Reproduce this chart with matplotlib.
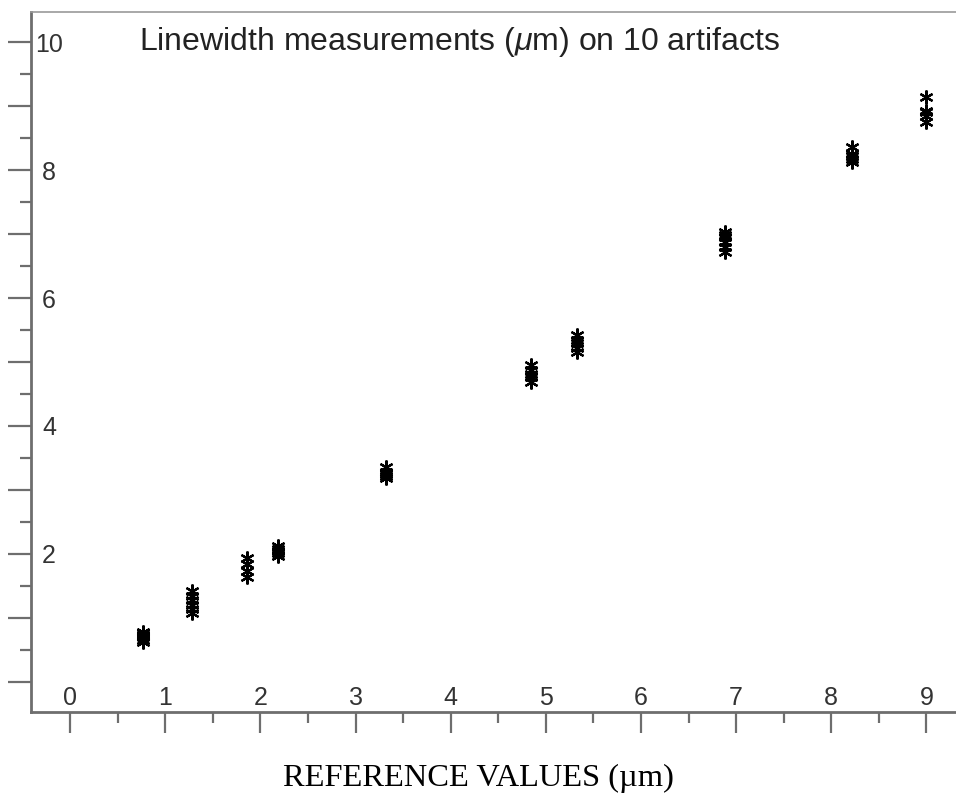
import numpy as np
import matplotlib
matplotlib.use("Agg")
import matplotlib.pyplot as plt
from matplotlib.ticker import FixedLocator, FuncFormatter

plt.rcParams['font.family'] = ['Liberation Sans', 'DejaVu Sans']
plt.rcParams['mathtext.fontset'] = 'custom'
plt.rcParams['mathtext.rm'] = 'Liberation Sans'
plt.rcParams['mathtext.it'] = 'Liberation Sans:italic'

# reference value of each artifact and the repeated measurements on it
ref_values = [0.77, 1.28, 1.86, 2.19, 3.32, 4.84, 5.33, 6.88, 8.22, 8.99]
measurements = [
    [0.62, 0.66, 0.70, 0.72, 0.74, 0.76, 0.78],
    [1.07, 1.14, 1.21, 1.28, 1.35, 1.42],
    [1.64, 1.74, 1.84, 1.94],
    [1.97, 2.02, 2.05, 2.08, 2.12],
    [3.19, 3.22, 3.25, 3.28, 3.36],
    [4.69, 4.76, 4.82, 4.88, 4.95],
    [5.16, 5.22, 5.29, 5.35, 5.42],
    [6.72, 6.80, 6.88, 6.95, 6.99, 7.03],
    [8.12, 8.18, 8.22, 8.25, 8.36],
    [8.75, 8.85, 8.90, 8.93, 9.14],
]

title = 'Linewidth measurements ($\\mu$m) on 10 artifacts'
xlabel = 'REFERENCE VALUES (\u00b5m)'

fig = plt.figure(figsize=(9.56, 7.96), dpi=100)
ax = fig.add_axes([31 / 956, 84 / 796, 1 - 31 / 956, (712 - 12) / 796])

for xr, ys in zip(ref_values, measurements):
    ax.plot([xr] * len(ys), ys, linestyle='none', marker=(6, 2, 0),
            markersize=10, markeredgewidth=1.6, color='black')

ax.set_xlim(-0.41, 9.31)
ax.set_ylim(-0.47, 10.47)

gray = '#6e6e6e'
ax.spines['right'].set_visible(False)
ax.spines['top'].set_color('#999999')
ax.spines['top'].set_linestyle((0, (1, 1)))
ax.spines['top'].set_linewidth(1.2)
for s in ['left', 'bottom']:
    ax.spines[s].set_color(gray)
    ax.spines[s].set_linewidth(2)

ax.xaxis.set_major_locator(FixedLocator(np.arange(0, 10)))
ax.xaxis.set_minor_locator(FixedLocator(np.arange(0.5, 9.5, 1)))
ax.yaxis.set_major_locator(FixedLocator(np.arange(0, 11)))
ax.yaxis.set_minor_locator(FixedLocator(np.arange(0.5, 10, 1)))
ax.yaxis.set_major_formatter(
    FuncFormatter(lambda v, p: '%d' % v if int(v) % 2 == 0 and v > 0 else ''))

ax.tick_params(axis='x', which='major', direction='out', length=15, width=1.6,
               color=gray, pad=-25, labelsize=18, labelcolor='#333333')
ax.tick_params(axis='x', which='minor', direction='out', length=8, width=1.6, color=gray)
ax.tick_params(axis='y', which='major', direction='out', length=16.5, width=1.6,
               color=gray, pad=-29.5, labelsize=18, labelcolor='#333333')
ax.tick_params(axis='y', which='minor', direction='out', length=8, width=1.6, color=gray)
for lbl in ax.get_xticklabels():
    lbl.set_verticalalignment('center')
for lbl in ax.get_yticklabels():
    lbl.set_horizontalalignment('center')

ax.text(0.463, 10, title, fontsize=23, color='#222222', ha='center', va='center',
        transform=ax.get_yaxis_transform())
ax.text(0.5, 10 / 796, xlabel, fontsize=23.4, family='Liberation Serif',
        ha='center', va='baseline', transform=fig.transFigure)

fig.savefig('out.png', dpi=100)
